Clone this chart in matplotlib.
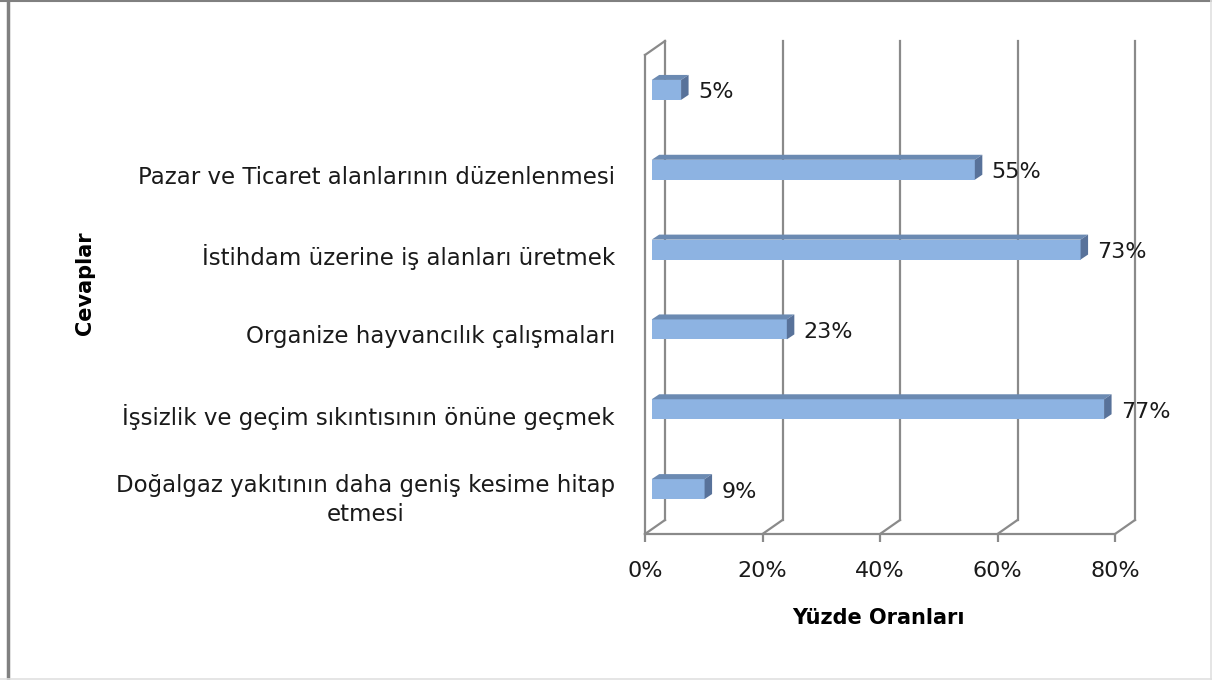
import matplotlib
matplotlib.use("Agg")
import matplotlib.pyplot as plt
from matplotlib.patches import Rectangle, Polygon
from matplotlib.lines import Line2D

# survey answers, bottom to top
categories = [
    "Doğalgaz yakıtının daha geniş kesime hitap\netmesi",
    "İşsizlik ve geçim sıkıntısının önüne geçmek",
    "Organize hayvancılık çalışmaları",
    "İstihdam üzerine iş alanları üretmek",
    "Pazar ve Ticaret alanlarının düzenlenmesi",
    "",
]
values = [9, 77, 23, 73, 55, 5]
xticks = [0, 20, 40, 60, 80]
xticklabels = ["0%", "20%", "40%", "60%", "80%"]

FRONT = "#8DB3E2"
TOP = "#6B8AB2"
SIDE = "#58729A"
GRID = "#8A8A8A"
TXT = "#1a1a1a"

plt.rcParams["font.family"] = "DejaVu Sans"

W, H = 1212, 680
fig = plt.figure(figsize=(W / 100, H / 100), dpi=100)
ax = fig.add_axes([645 / W, (H - 534) / H, 470 / W, 479 / H])
ax.set_xlim(0, 80)
ax.set_ylim(-0.5, len(categories) - 0.5)

# pixel offsets -> data units, for the fake depth
ux = ax.get_window_extent().width / 80
uy = ax.get_window_extent().height / len(categories)


def depth(px, py):
    return px / ux, py / uy


# back wall and floor
bx, by = depth(20, 14)
y0, y1 = -0.5, len(categories) - 0.5
for v in xticks:
    ax.plot([v + bx, v + bx], [y0 + by, y1 + by], color=GRID, lw=1.6,
            clip_on=False, zorder=1)
    ax.plot([v, v + bx], [y0, y0 + by], color=GRID, lw=1.6,
            clip_on=False, zorder=1)
ax.plot([0, bx], [y1, y1 + by], color=GRID, lw=1.6, clip_on=False, zorder=1)

# 3d-looking bars
fx, fy = depth(6.7, 5)
dx, dy = depth(7.5, 5)
h = 0.25
for i, v in enumerate(values):
    bot = i - h / 2 + fy
    top = i + h / 2 + fy
    ax.add_patch(Rectangle((fx, bot), v, h, facecolor=FRONT,
                           edgecolor="none", clip_on=False, zorder=3))
    ax.add_patch(Polygon([(fx, top), (fx + v, top), (fx + v + dx, top + dy),
                          (fx + dx, top + dy)], closed=True, facecolor=TOP,
                         edgecolor="none", clip_on=False, zorder=3))
    ax.add_patch(Polygon([(fx + v, bot), (fx + v + dx, bot + dy),
                          (fx + v + dx, top + dy), (fx + v, top)], closed=True,
                         facecolor=SIDE, edgecolor="none", clip_on=False,
                         zorder=3))
    ax.annotate(f"{v}%", xy=(fx + v + dx, i + fy), xytext=(6.8, -1.8),
                textcoords="offset points", ha="left", va="center",
                fontsize=16, color=TXT, zorder=4)

# axes
for s in ["top", "right"]:
    ax.spines[s].set_visible(False)
for s in ["left", "bottom"]:
    ax.spines[s].set_color(GRID)
    ax.spines[s].set_linewidth(1.6)
ax.set_xticks(xticks)
ax.set_xticklabels(xticklabels, fontsize=16, color=TXT)
ax.tick_params(axis="x", length=6, width=1.6, color=GRID, pad=13.5)
ax.set_yticks(range(len(categories)))
ax.set_yticklabels(categories, fontsize=16.5, color=TXT,
                   multialignment="center", linespacing=1.35)
ax.tick_params(axis="y", length=0, pad=21.6)
ax.set_facecolor("none")

fig.text(878 / W, 1 - 618 / H, "Yüzde Oranları", ha="center", va="center",
         fontsize=15, fontweight="bold")
fig.text(85 / W, 1 - 283 / H, "Cevaplar", ha="center", va="center",
         rotation=90, fontsize=15, fontweight="bold")

# outer frame
fig.add_artist(Line2D([7.5 / W, 7.5 / W], [0, 1], color="#808080", lw=2.5,
                      transform=fig.transFigure))
fig.add_artist(Line2D([0, 1], [1 - 1 / H, 1 - 1 / H], color="#808080", lw=1.5,
                      transform=fig.transFigure))
fig.add_artist(Line2D([1 - 1 / W, 1 - 1 / W], [0, 1], color="#e0e0e0", lw=1.2,
                      transform=fig.transFigure))
fig.add_artist(Line2D([0, 1], [1 / H, 1 / H], color="#e0e0e0", lw=1.2,
                      transform=fig.transFigure))

fig.savefig("out.png", dpi=100)
